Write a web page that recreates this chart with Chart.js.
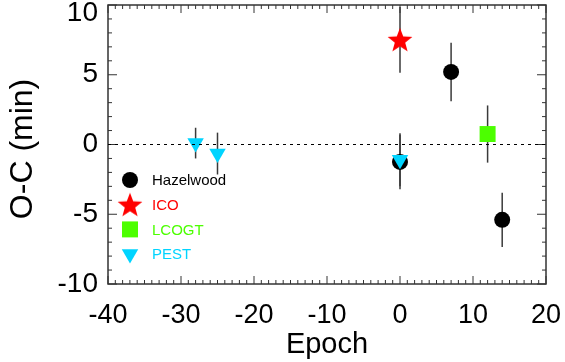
<!DOCTYPE html>
<html>
<head>
<meta charset="utf-8">
<script src="https://cdn.jsdelivr.net/npm/chart.js@4"></script>
<style>
  html, body { margin: 0; padding: 0; background: #fff; }
  #wrap { width: 565px; height: 362px; }
</style>
</head>
<body>
<div id="wrap"><canvas id="ocChart" width="565" height="362"></canvas></div>
<script>
'use strict';

// data (epoch, O-C in minutes, 1-sigma error)
const hazelEpoch = [0, 7, 14];
const hazelOC = [-1.25, 5.2, -5.4];
const hazelErr = [1.95, 2.1, 1.95];

const icoEpoch = [0];
const icoOC = [7.5];
const icoErr = [2.35];

const lcogtEpoch = [12];
const lcogtOC = [0.75];
const lcogtErr = [2.05];

const pestEpoch = [-28, -25, 0];
const pestOC = [0.1, -0.65, -1.1];
const pestErr = [1.1, 1.5, 1.9];

const xTicks = [-40, -30, -20, -10, 0, 10, 20];
const yTicks = [-10, -5, 0, 5, 10];

const FONT = "'Liberation Sans', Arial, sans-serif";
const RED = '#ff0000';
const GREEN = '#4cff00';
const CYAN = '#00d4ff';

// filled five point star for the ICO marker
function makeStar(size, color) {
  let c = document.createElement('canvas');
  c.width = size;
  c.height = size;
  let g = c.getContext('2d');
  let cx = size / 2, cy = size / 2 + 1;
  let outer = size / 2, inner = outer * 0.42;
  g.beginPath();
  for (let i = 0; i < 10; i++) {
    let r = i % 2 === 0 ? outer : inner;
    let a = -Math.PI / 2 + i * Math.PI / 5;
    g.lineTo(cx + r * Math.cos(a), cy + r * Math.sin(a));
  }
  g.closePath();
  g.fillStyle = color;
  g.fill();
  return c;
}
const starImg = makeStar(26, RED);

let toPoints = (xs, ys, es) => xs.map((x, i) => ({x: x, y: ys[i], err: es[i]}));

// vertical error bars behind the markers
const errorBars = {
  id: 'errorBars',
  beforeDatasetsDraw(chart) {
    let ctx = chart.ctx;
    let xs = chart.scales.x, ys = chart.scales.y;
    ctx.save();
    ctx.strokeStyle = '#3a3a3a';
    ctx.lineWidth = 1.5;
    chart.data.datasets.forEach(function(ds) {
      ds.data.forEach(function(p) {
        let px = xs.getPixelForValue(p.x);
        let top = Math.max(ys.getPixelForValue(p.y + p.err), chart.chartArea.top);
        let bot = Math.min(ys.getPixelForValue(p.y - p.err), chart.chartArea.bottom);
        ctx.beginPath();
        ctx.moveTo(px, top);
        ctx.lineTo(px, bot);
        ctx.stroke();
      });
    });
    ctx.restore();
  }
};

// frame, inward ticks on all four sides, dotted zero line
const frame = {
  id: 'frame',
  beforeDraw(chart) {
    // nudge the top y label down so it stays on the canvas
    let items = chart.scales.y.getLabelItems();
    items.forEach(function(it) {
      if (it.label === '10') it.options.translation[1] = 13;
    });
  },
  afterDraw(chart) {
    let ctx = chart.ctx;
    let a = chart.chartArea;
    let xs = chart.scales.x, ys = chart.scales.y;
    ctx.save();
    ctx.strokeStyle = '#333';
    ctx.lineWidth = 1.5;
    ctx.strokeRect(a.left, a.top, a.right - a.left, a.bottom - a.top);
    ctx.lineWidth = 1;
    ctx.beginPath();
    for (let v = xs.min; v <= xs.max; v++) {
      let px = xs.getPixelForValue(v);
      let len = v % 10 === 0 ? 8 : 4;
      ctx.moveTo(px, a.bottom); ctx.lineTo(px, a.bottom - len);
      ctx.moveTo(px, a.top); ctx.lineTo(px, a.top + len);
    }
    for (let v = ys.min; v <= ys.max; v++) {
      let py = ys.getPixelForValue(v);
      let len = v % 5 === 0 ? 9 : 4;
      ctx.moveTo(a.left, py); ctx.lineTo(a.left + len, py);
      ctx.moveTo(a.right, py); ctx.lineTo(a.right - len, py);
    }
    ctx.stroke();

    let zy = ys.getPixelForValue(0);
    ctx.strokeStyle = '#000';
    ctx.setLineDash([3, 4]);
    ctx.beginPath();
    ctx.moveTo(a.left, zy);
    ctx.lineTo(a.right, zy);
    ctx.stroke();
    ctx.restore();
  }
};

// legend inside the plot, lower left
const innerLegend = {
  id: 'innerLegend',
  afterDraw(chart) {
    let ctx = chart.ctx;
    let a = chart.chartArea;
    let x0 = a.left + 22, y0 = a.top + 175;
    ctx.save();
    ctx.font = '15px ' + FONT;
    ctx.textBaseline = 'middle';
    chart.data.datasets.forEach(function(ds, i) {
      let y = y0 + i * 24.7;
      ctx.fillStyle = ds.backgroundColor;
      Chart.helpers.drawPoint(ctx, {
        pointStyle: ds.pointStyle,
        radius: ds.pointRadius,
        rotation: ds.rotation || 0,
        borderWidth: 0
      }, x0, y);
      ctx.fillStyle = ds.labelColor;
      ctx.fillText(ds.label, x0 + 22, y + 1);
    });
    ctx.restore();
  }
};

const ctx = document.getElementById('ocChart').getContext('2d');
const chart = new Chart(ctx, {
  type: 'scatter',
  data: {
    datasets: [{
      label: 'Hazelwood',
      data: toPoints(hazelEpoch, hazelOC, hazelErr),
      pointStyle: 'circle',
      pointRadius: 8,
      backgroundColor: '#000',
      borderWidth: 0,
      labelColor: '#000',
      order: 4
    }, {
      label: 'ICO',
      data: toPoints(icoEpoch, icoOC, icoErr),
      pointStyle: starImg,
      pointRadius: 12,
      backgroundColor: RED,
      borderWidth: 0,
      labelColor: RED,
      order: 3
    }, {
      label: 'LCOGT',
      data: toPoints(lcogtEpoch, lcogtOC, lcogtErr),
      pointStyle: 'rect',
      pointRadius: 11.3,
      backgroundColor: GREEN,
      borderWidth: 0,
      labelColor: GREEN,
      order: 2
    }, {
      label: 'PEST',
      data: toPoints(pestEpoch, pestOC, pestErr),
      pointStyle: 'triangle',
      rotation: 180,
      pointRadius: 9.5,
      backgroundColor: CYAN,
      borderWidth: 0,
      labelColor: CYAN,
      order: 1
    }]
  },
  options: {
    responsive: false,
    animation: false,
    layout: { autoPadding: false, padding: { top: 5, right: 19, left: 0, bottom: 0 } },
    plugins: {
      legend: { display: false },
      tooltip: { enabled: false }
    },
    elements: { point: { hoverRadius: 0 } },
    scales: {
      x: {
        type: 'linear',
        min: -40,
        max: 20,
        afterBuildTicks: s => { s.ticks = xTicks.map(v => ({value: v})); },
        afterFit: s => { s.height = 78; s.paddingLeft = 0; s.paddingRight = 0; },
        grid: { display: false },
        border: { display: false },
        ticks: { color: '#000', font: { family: FONT, size: 27 }, padding: 7, maxRotation: 0 },
        title: { display: true, text: 'Epoch', color: '#000', font: { family: FONT, size: 29 }, padding: { top: 0, bottom: 0 } }
      },
      y: {
        type: 'linear',
        min: -10,
        max: 10,
        afterBuildTicks: s => { s.ticks = yTicks.map(v => ({value: v})); },
        afterFit: s => { s.width = 108; s.paddingTop = 0; s.paddingBottom = 0; },
        grid: { display: false, drawTicks: false },
        border: { display: false },
        ticks: { color: '#000', font: { family: FONT, size: 28 }, padding: 10 },
        title: { display: true, text: 'O-C (min)\u00a0', color: '#000', font: { family: FONT, size: 32 }, padding: { top: 4, bottom: 0 } }
      }
    }
  },
  plugins: [errorBars, frame, innerLegend]
});
</script>
</body>
</html>
